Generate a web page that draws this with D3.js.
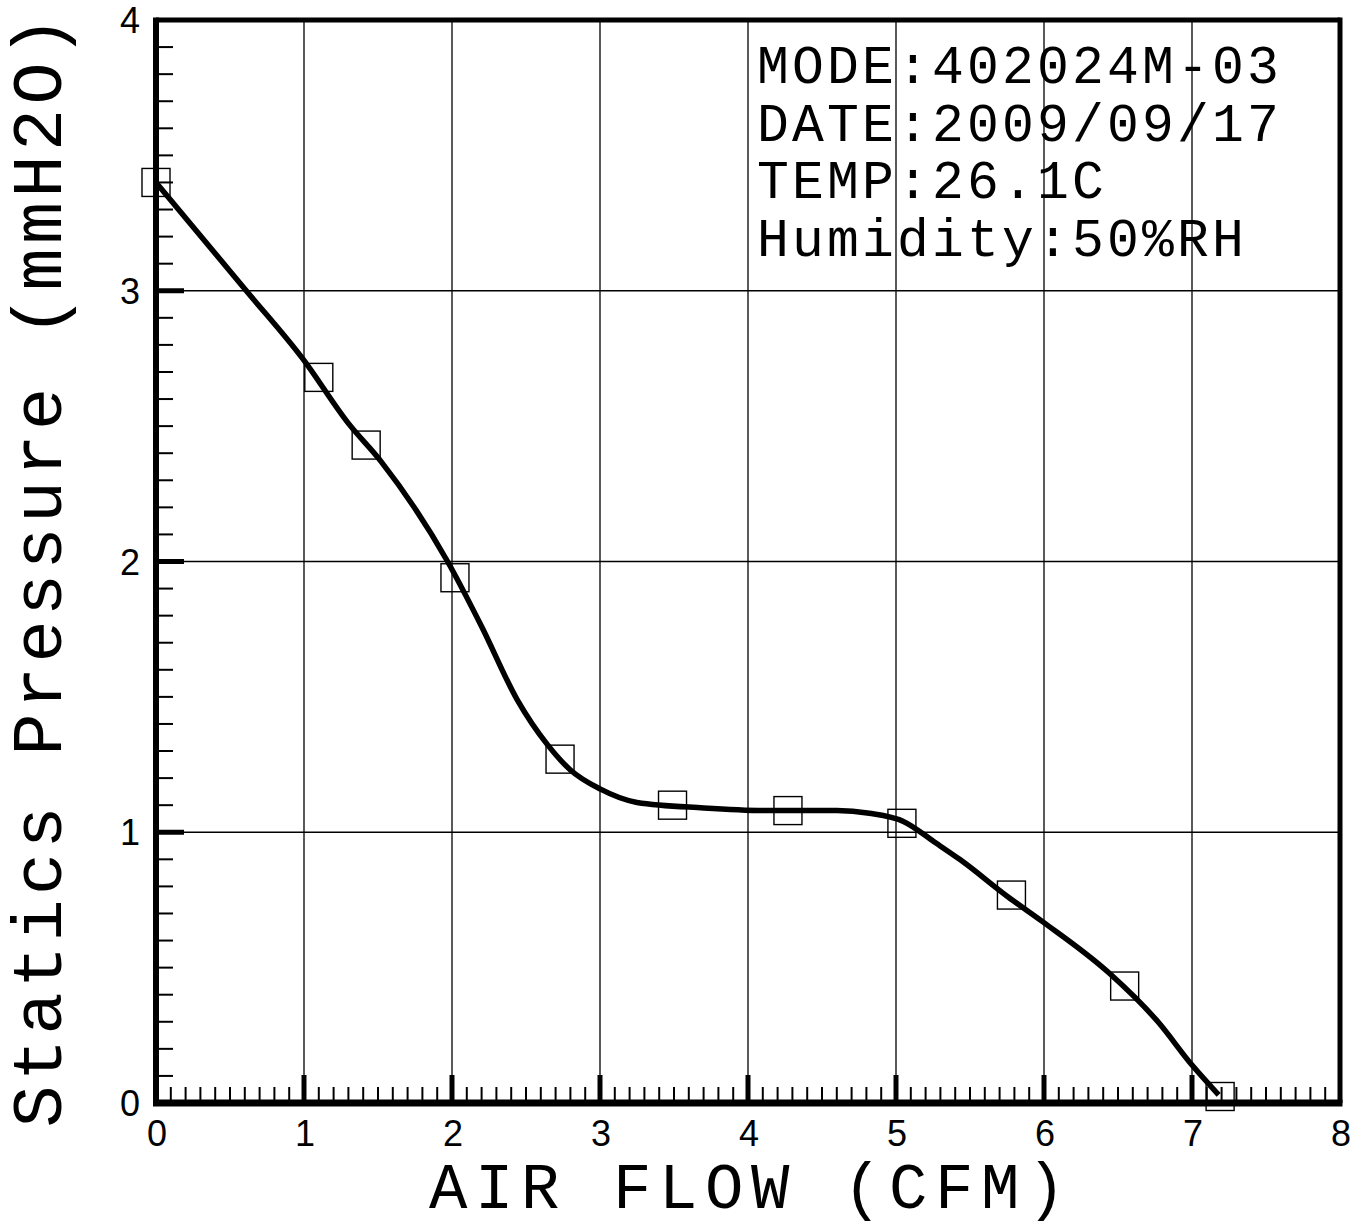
<!DOCTYPE html>
<html>
<head>
<meta charset="utf-8">
<script src="https://cdn.jsdelivr.net/npm/d3@7"></script>
<style>
  html, body { margin: 0; padding: 0; background: #fff; }
  svg { display: block; }
</style>
</head>
<body>
<svg id="chart" width="1362" height="1228"></svg>
<script>
// ---- data ----
const xTicks = [0, 1, 2, 3, 4, 5, 6, 7, 8];
const yTicks = [0, 1, 2, 3, 4];
const pointFlow = [0.00, 1.10, 1.42, 2.02, 2.73, 3.49, 4.27, 5.04, 5.78, 6.545, 7.19];
const pointPressure = [3.40, 2.68, 2.43, 1.94, 1.27, 1.10, 1.08, 1.033, 0.768, 0.432, 0.024];
const curveFlow = [0.00, 0.61, 0.99, 1.30, 1.52, 1.97, 2.20, 2.44, 2.65, 2.80, 3.00, 3.25, 3.70, 4.15, 4.60, 4.82, 5.05, 5.27, 5.43, 5.76, 5.99, 6.44, 6.77, 7.00, 7.18];
const curvePressure = [3.40, 3.00, 2.75, 2.51, 2.37, 2.00, 1.76, 1.49, 1.32, 1.23, 1.16, 1.11, 1.09, 1.08, 1.08, 1.07, 1.04, 0.96, 0.90, 0.76, 0.67, 0.48, 0.30, 0.14, 0.03];
const infoLines = ["MODE:402024M-03", "DATE:2009/09/17", "TEMP:26.1C", "Humidity:50%RH"];
const xTitle = "AIR FLOW (CFM)";
const yTitle = "Statics Pressure (mmH2O)";

// ---- layout ----
const L = 156, T = 20, R = 1340, B = 1103;
const svg = d3.select("#chart");
const x = d3.scaleLinear().domain([0, 8]).range([L, R]);
const y = d3.scaleLinear().domain([0, 4]).range([B, T]);

// grid
const g = svg.append("g");
g.selectAll("line.vg").data(xTicks.slice(1, -1)).join("line")
  .attr("x1", d => x(d)).attr("x2", d => x(d)).attr("y1", T).attr("y2", B)
  .attr("stroke", "#000").attr("stroke-width", 1.3);
g.selectAll("line.hg").data(yTicks.slice(1, -1)).join("line")
  .attr("y1", d => y(d)).attr("y2", d => y(d)).attr("x1", L).attr("x2", R)
  .attr("stroke", "#000").attr("stroke-width", 1.3);

// minor ticks
const xMinor = d3.range(1, 80).filter(i => i % 10 !== 0).map(i => i / 10);
const yMinor = d3.range(1, 40).filter(i => i % 10 !== 0).map(i => i / 10);
g.selectAll("line.xm").data(xMinor).join("line")
  .attr("x1", d => x(d)).attr("x2", d => x(d)).attr("y1", B).attr("y2", B - 16)
  .attr("stroke", "#000").attr("stroke-width", 2);
g.selectAll("line.ym").data(yMinor).join("line")
  .attr("y1", d => y(d)).attr("y2", d => y(d)).attr("x1", L).attr("x2", L + 17)
  .attr("stroke", "#000").attr("stroke-width", 2);
// major ticks
g.selectAll("line.xM").data(xTicks.slice(1, -1)).join("line")
  .attr("x1", d => x(d)).attr("x2", d => x(d)).attr("y1", B).attr("y2", B - 28)
  .attr("stroke", "#000").attr("stroke-width", 5);
g.selectAll("line.yM").data(yTicks.slice(1, -1)).join("line")
  .attr("y1", d => y(d)).attr("y2", d => y(d)).attr("x1", L).attr("x2", L + 28)
  .attr("stroke", "#000").attr("stroke-width", 5);

// frame
g.append("line").attr("x1", L).attr("x2", R).attr("y1", T).attr("y2", T).attr("stroke", "#000").attr("stroke-width", 5);
g.append("line").attr("x1", R).attr("x2", R).attr("y1", T - 2.5).attr("y2", B).attr("stroke", "#000").attr("stroke-width", 5);
g.append("line").attr("x1", L - 3).attr("x2", R + 2.5).attr("y1", B).attr("y2", B).attr("stroke", "#000").attr("stroke-width", 7);
g.append("line").attr("x1", L).attr("x2", L).attr("y1", T - 2.5).attr("y2", B).attr("stroke", "#000").attr("stroke-width", 6);

// tick labels
svg.append("g").selectAll("text").data(xTicks).join("text")
  .attr("x", d => x(d) + 1).attr("y", 1146)
  .attr("text-anchor", "middle")
  .attr("font-family", "Liberation Sans, Arial, sans-serif").attr("font-size", 36)
  .attr("fill", "#000").text(d => d);
svg.append("g").selectAll("text").data(yTicks).join("text")
  .attr("x", 140).attr("y", d => y(d) + 13)
  .attr("text-anchor", "end")
  .attr("font-family", "Liberation Sans, Arial, sans-serif").attr("font-size", 36)
  .attr("fill", "#000").text(d => d);

// axis titles
svg.append("text")
  .attr("x", (L + R) / 2 + 3).attr("y", 1208)
  .attr("text-anchor", "middle")
  .attr("font-family", "Liberation Mono, Courier New, monospace").attr("font-size", 64)
  .attr("letter-spacing", 7.6)
  .attr("fill", "#000").text(xTitle);
svg.append("text")
  .attr("transform", `translate(61,${(T + B) / 2 + 8}) rotate(-90)`)
  .attr("text-anchor", "middle")
  .attr("font-family", "Liberation Mono, Courier New, monospace").attr("font-size", 70)
  .attr("letter-spacing", 4.5)
  .attr("fill", "#000").text(yTitle);

// curve
const curveData = curveFlow.map((f, i) => [f, curvePressure[i]]);
svg.append("path")
  .datum(curveData)
  .attr("d", d3.line().x(d => x(d[0])).y(d => y(d[1])).curve(d3.curveMonotoneX))
  .attr("fill", "none").attr("stroke", "#000").attr("stroke-width", 5.5)
  .attr("stroke-linejoin", "round");

// markers
const pts = pointFlow.map((f, i) => [f, pointPressure[i]]);
const ms = 28;
svg.append("g").selectAll("rect").data(pts).join("rect")
  .attr("x", d => x(d[0]) - ms / 2).attr("y", d => y(d[1]) - ms / 2)
  .attr("width", ms).attr("height", ms)
  .attr("fill", "none").attr("stroke", "#000").attr("stroke-width", 1.4);

// info text
svg.append("g").selectAll("text").data(infoLines).join("text")
  .attr("x", 757).attr("y", (d, i) => 83 + i * 57.5)
  .attr("font-family", "Liberation Mono, Courier New, monospace").attr("font-size", 53)
  .attr("letter-spacing", 3.2)
  .attr("fill", "#000").text(d => d);
</script>
</body>
</html>
